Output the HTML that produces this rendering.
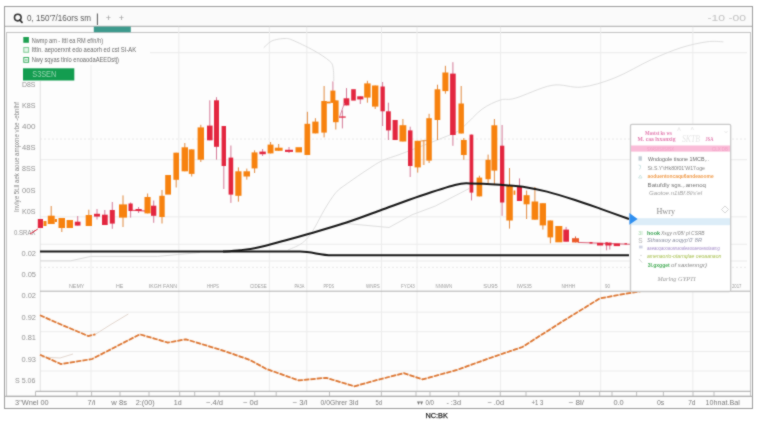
<!DOCTYPE html>
<html><head><meta charset="utf-8"><title>chart</title>
<style>
html,body{margin:0;padding:0;background:#fff;}
body{width:760px;height:426px;overflow:hidden;position:relative;}
svg{position:absolute;left:0;top:0;font-family:'Liberation Sans',sans-serif;}
</style></head>
<body>
<svg width="760" height="426" viewBox="0 0 760 426">
<defs><filter id="sf" x="0" y="0" width="760" height="426" filterUnits="userSpaceOnUse" color-interpolation-filters="sRGB"><feConvolveMatrix order="3" kernelMatrix="1 2 1 2 14 2 1 2 1" divisor="26" edgeMode="duplicate" preserveAlpha="true"/></filter></defs>
<g filter="url(#sf)">
<rect x="0" y="0" width="760" height="426" fill="#ffffff"/>
<rect x="4.5" y="6.5" width="748" height="402" fill="#fcfcfc" stroke="#9c9c9c" stroke-width="1"/>
<rect x="5" y="7" width="747" height="19" fill="#fafafa"/>
<line x1="5" y1="26.3" x2="752" y2="26.3" stroke="#a8a8a8" stroke-width="1"/>
<!-- inner main box -->
<rect x="6.5" y="32.5" width="744" height="363.8" fill="#fdfdfd" stroke="#c4c4c4" stroke-width="1"/>
<rect x="93.8" y="26.6" width="37" height="5.6" fill="#3d9a8d"/>
<!-- grids -->
<line x1="150" y1="52.7" x2="747" y2="52.7" stroke="#ebebeb" stroke-width="1"/>
<line x1="40" y1="159.7" x2="747" y2="159.7" stroke="#ebebeb" stroke-width="1"/><line x1="40" y1="216.8" x2="747" y2="216.8" stroke="#ebebeb" stroke-width="1"/><line x1="40" y1="244.3" x2="747" y2="244.3" stroke="#ebebeb" stroke-width="1"/><line x1="40" y1="261" x2="747" y2="261" stroke="#ebebeb" stroke-width="1"/>
<line x1="40" y1="139" x2="747" y2="139" stroke="#e8e8e8" stroke-width="1" stroke-dasharray="2,2"/><line x1="40" y1="267.3" x2="747" y2="267.3" stroke="#e8e8e8" stroke-width="1" stroke-dasharray="2,2"/>
<line x1="178.8" y1="26.8" x2="178.8" y2="291" stroke="#ececec" stroke-width="1"/><line x1="269.4" y1="26.8" x2="269.4" y2="291" stroke="#ececec" stroke-width="1"/><line x1="306.8" y1="26.8" x2="306.8" y2="291" stroke="#ececec" stroke-width="1"/><line x1="381.5" y1="26.8" x2="381.5" y2="291" stroke="#ececec" stroke-width="1"/><line x1="417" y1="26.8" x2="417" y2="291" stroke="#ececec" stroke-width="1"/><line x1="500.6" y1="26.8" x2="500.6" y2="291" stroke="#ececec" stroke-width="1"/><line x1="600.7" y1="26.8" x2="600.7" y2="291" stroke="#ececec" stroke-width="1"/><line x1="692.9" y1="26.8" x2="692.9" y2="291" stroke="#ececec" stroke-width="1"/>
<line x1="91" y1="65" x2="91" y2="291" stroke="#ececec" stroke-width="1"/>
<line x1="91" y1="291" x2="91" y2="391" stroke="#ececec" stroke-width="1"/><line x1="178.8" y1="291" x2="178.8" y2="391" stroke="#ececec" stroke-width="1"/><line x1="269.4" y1="291" x2="269.4" y2="391" stroke="#ececec" stroke-width="1"/><line x1="306.8" y1="291" x2="306.8" y2="391" stroke="#ececec" stroke-width="1"/><line x1="381.5" y1="291" x2="381.5" y2="391" stroke="#ececec" stroke-width="1"/><line x1="417" y1="291" x2="417" y2="391" stroke="#ececec" stroke-width="1"/><line x1="500.6" y1="291" x2="500.6" y2="391" stroke="#ececec" stroke-width="1"/><line x1="600.7" y1="291" x2="600.7" y2="391" stroke="#ececec" stroke-width="1"/><line x1="692.9" y1="291" x2="692.9" y2="391" stroke="#ececec" stroke-width="1"/>
<line x1="40" y1="312.2" x2="750" y2="312.2" stroke="#ececec" stroke-width="1"/><line x1="40" y1="331.7" x2="750" y2="331.7" stroke="#ececec" stroke-width="1"/><line x1="40" y1="351.5" x2="750" y2="351.5" stroke="#ececec" stroke-width="1"/><line x1="40" y1="371" x2="750" y2="371" stroke="#ececec" stroke-width="1"/>
<line x1="40.3" y1="81" x2="40.3" y2="391" stroke="#e2e2e2" stroke-width="1"/>
<!-- toolbar -->
<circle cx="17.8" cy="17.6" r="3.3" fill="none" stroke="#333" stroke-width="1.6"/>
<line x1="19.9" y1="20" x2="22" y2="22.4" stroke="#333" stroke-width="1.8" stroke-linecap="round"/>
<text x="27" y="21.2" font-size="9" fill="#5a5a5a" text-anchor="start" textLength="64" lengthAdjust="spacingAndGlyphs" >0, 150'7/16ors sm</text>
<line x1="97.4" y1="13.5" x2="97.4" y2="25" stroke="#555" stroke-width="1"/>
<text x="108.3" y="21" font-size="9" fill="#999" text-anchor="middle" >+</text>
<text x="121.4" y="21" font-size="9" fill="#999" text-anchor="middle" >+</text>
<text x="707.5" y="20.6" font-size="9" fill="#c2c2c2" text-anchor="start" textLength="38.5" lengthAdjust="spacingAndGlyphs" >-10 -00</text>
<!-- legend -->
<rect x="23.3" y="37" width="5.6" height="5.8" fill="#1ea052"/>
<rect x="23.8" y="47.5" width="4.8" height="4.8" fill="#e4f5e8" stroke="#82cc98" stroke-width="1"/>
<rect x="23.8" y="57.5" width="4.8" height="4.8" fill="#fff" stroke="#3cae62" stroke-width="1"/>
<line x1="24.8" y1="60" x2="27.6" y2="60" stroke="#3cae62" stroke-width="1"/>
<text x="31.7" y="42.6" font-size="7.6" fill="#6a6a6a" text-anchor="start" textLength="71.3" lengthAdjust="spacingAndGlyphs" >Nwmp am - Ittl ea RM ef/n/h)</text>
<text x="31.7" y="52.4" font-size="7.6" fill="#6a6a6a" text-anchor="start" textLength="104.5" lengthAdjust="spacingAndGlyphs" >Ittln. aepoerxnt edo aeaorh ed cst SI-AK</text>
<text x="31.7" y="62.4" font-size="7.6" fill="#6a6a6a" text-anchor="start" textLength="87.3" lengthAdjust="spacingAndGlyphs" >Nwy sqyas tlnlo enoaodaAEEDstj)</text>
<rect x="23" y="68.3" width="51.3" height="12.2" fill="#139d50"/>
<text x="32.3" y="77.3" font-size="8.3" fill="#9cd6b4" text-anchor="start" textLength="24" lengthAdjust="spacingAndGlyphs" >S3SEN</text>
<!-- rotated axis label -->
<text transform="translate(18.6,212) rotate(-90)" font-size="6.3" fill="#858585" textLength="110" lengthAdjust="spacingAndGlyphs">Invlye 5t.ll aek aoue ampxne vbe -ebnlhf</text>
<text x="35.5" y="86.5" font-size="7" fill="#929292" text-anchor="end" textLength="13.5" lengthAdjust="spacingAndGlyphs" >D8S</text><text x="35.5" y="108.0" font-size="7" fill="#929292" text-anchor="end" textLength="13.5" lengthAdjust="spacingAndGlyphs" >K8S</text><text x="35.5" y="128.5" font-size="7" fill="#929292" text-anchor="end" textLength="13.5" lengthAdjust="spacingAndGlyphs" >400</text><text x="35.5" y="150.2" font-size="7" fill="#929292" text-anchor="end" textLength="13.5" lengthAdjust="spacingAndGlyphs" >48S</text><text x="35.5" y="171.0" font-size="7" fill="#929292" text-anchor="end" textLength="13.5" lengthAdjust="spacingAndGlyphs" >8SS</text><text x="35.5" y="192.5" font-size="7" fill="#929292" text-anchor="end" textLength="13.5" lengthAdjust="spacingAndGlyphs" >00S</text><text x="35.5" y="213.8" font-size="7" fill="#929292" text-anchor="end" textLength="13.5" lengthAdjust="spacingAndGlyphs" >K0S</text><text x="35.5" y="235.3" font-size="7" fill="#929292" text-anchor="end" textLength="21.5" lengthAdjust="spacingAndGlyphs" >0.SRAX</text><text x="36" y="256.2" font-size="7" fill="#929292" text-anchor="end" textLength="14.5" lengthAdjust="spacingAndGlyphs" >0.02</text><text x="36" y="277.3" font-size="7" fill="#929292" text-anchor="end" textLength="14.5" lengthAdjust="spacingAndGlyphs" >0.05</text><text x="36" y="298.3" font-size="7" fill="#929292" text-anchor="end" textLength="14.5" lengthAdjust="spacingAndGlyphs" >0.02</text><text x="36" y="319.5" font-size="7" fill="#929292" text-anchor="end" textLength="14.5" lengthAdjust="spacingAndGlyphs" >0.92</text><text x="36" y="340.1" font-size="7" fill="#929292" text-anchor="end" textLength="14.5" lengthAdjust="spacingAndGlyphs" >0.81</text><text x="36" y="361.5" font-size="7" fill="#929292" text-anchor="end" textLength="14.5" lengthAdjust="spacingAndGlyphs" >0.93</text><text x="35.5" y="382.8" font-size="7" fill="#929292" text-anchor="end" textLength="20.5" lengthAdjust="spacingAndGlyphs" >S 5.06</text>
<!-- main chart gray lines -->
<path d="M263.8,47.6 C264.9,46.6 268.3,43.1 270.4,41.8 C272.5,40.5 273.8,40.1 276.2,39.6 C278.6,39.1 282.3,38.4 285,38.5 C287.7,38.6 287.4,38.0 292.2,40 C297.0,42.0 307.8,47.1 314,50.6 C320.2,54.1 326.1,58.0 329.3,60.8 C332.5,63.6 332.2,63.9 333,67.3 C333.8,70.7 333.7,78.7 333.8,81" fill="none" stroke="#dcdcdc" stroke-width="1"/>
<path d="M287.9,250 C289.9,249.1 296.6,246.6 300,244.5 C303.4,242.4 305.5,240.4 308,237.5 C310.5,234.6 312.3,231.5 315,227 C317.7,222.5 320.6,216.1 324,210.4 C327.4,204.7 331.8,197.3 335.7,192.8 C339.6,188.3 342.0,187.3 347.4,183.4 C352.8,179.5 362.1,173.1 368,169.3 C373.9,165.5 376.8,163.2 382.6,160.5 C388.4,157.8 391.4,157.6 403,153.2 C414.6,148.8 441.9,138.4 452,134 C462.1,129.6 458.7,130.6 463.7,126.5 C468.7,122.4 475.9,113.6 482,109.2 C488.1,104.8 494.9,101.8 500.5,100 C506.1,98.2 506.7,100.7 515.3,98.2 C523.9,95.8 541.0,87.2 552,85.3 C563.0,83.4 571.1,88.3 581.6,87.1 C592.1,85.9 603.0,82.5 614.7,77.9 C626.4,73.3 640.6,64.5 651.6,59.5 C662.6,54.5 671.8,50.7 681,47.7 C690.2,44.8 699.8,42.8 706.9,41.8 C714.0,40.8 720.6,41.8 723.4,41.8" fill="none" stroke="#dedede" stroke-width="1"/>
<polyline points="341,223 389,227.5 412,214.8 435.4,206 469,188.6" fill="none" stroke="#dedede" stroke-width="1"/>
<polyline points="40,260.8 70.6,260.8 90.8,256.4 157.5,256.4 177.8,254.5 200,252.5" fill="none" stroke="#dadada" stroke-width="1"/>

<!-- candles -->
<polyline points="30,234 37.8,229" fill="none" stroke="#e3263f" stroke-width="1"/>
<line x1="578" y1="242.4" x2="631" y2="244.3" stroke="#d8506a" stroke-width="0.9"/>
<rect x="37.8" y="219" width="5.2" height="9.0" fill="#e3263f"/><rect x="43.5" y="221" width="3.0" height="5.0" fill="#f7820f"/><line x1="51.2" y1="206" x2="51.2" y2="224" stroke="#e08a40" stroke-width="1"/><rect x="47.8" y="215.7" width="6.9" height="8.3" fill="#f7820f"/><rect x="54.7" y="219" width="2.3" height="3.0" fill="#f7820f"/><line x1="61.8" y1="218" x2="61.8" y2="232" stroke="#e08a40" stroke-width="1"/><rect x="58.5" y="218" width="6.5" height="10.0" fill="#f7820f"/><rect x="66.6" y="220" width="6.4" height="8.0" fill="#f7820f"/><line x1="77.7" y1="216" x2="77.7" y2="225.6" stroke="#d47a98" stroke-width="1"/><rect x="74.8" y="221.7" width="5.7" height="3.9" fill="#e3263f"/><line x1="88.8" y1="209.7" x2="88.8" y2="226" stroke="#e08a40" stroke-width="1"/><rect x="85.7" y="215" width="6.3" height="11.0" fill="#f7820f"/><line x1="97.0" y1="209" x2="97.0" y2="219.5" stroke="#d47a98" stroke-width="1"/><rect x="94" y="213.8" width="6.0" height="2.8" fill="#e3263f"/><line x1="104.8" y1="210" x2="104.8" y2="225" stroke="#d47a98" stroke-width="1"/><rect x="102" y="214.7" width="5.7" height="10.3" fill="#e3263f"/><line x1="112.3" y1="202" x2="112.3" y2="228.8" stroke="#d47a98" stroke-width="1"/><rect x="109.8" y="210" width="5.0" height="13.6" fill="#e3263f"/><line x1="123.0" y1="195.4" x2="123.0" y2="227" stroke="#e08a40" stroke-width="1"/><rect x="119" y="204.4" width="8.0" height="13.2" fill="#f7820f"/><line x1="130.6" y1="202.5" x2="130.6" y2="217.6" stroke="#d47a98" stroke-width="1"/><rect x="128.5" y="203.5" width="4.2" height="7.5" fill="#e3263f"/><line x1="138.6" y1="207" x2="138.6" y2="213" stroke="#d47a98" stroke-width="1"/><rect x="135.5" y="209" width="6.2" height="2.0" fill="#e3263f"/><line x1="147.6" y1="193.5" x2="147.6" y2="213.4" stroke="#e08a40" stroke-width="1"/><rect x="144.5" y="197" width="6.1" height="16.4" fill="#f7820f"/><line x1="153.7" y1="200.5" x2="153.7" y2="222.8" stroke="#d47a98" stroke-width="1"/><rect x="151" y="205.7" width="5.3" height="10.1" fill="#e3263f"/><line x1="162.0" y1="190" x2="162.0" y2="223.5" stroke="#e08a40" stroke-width="1"/><rect x="159.3" y="195.8" width="5.4" height="21.2" fill="#f7820f"/><rect x="165.2" y="175" width="5.8" height="19.6" fill="#f7820f"/><line x1="176.2" y1="152.7" x2="176.2" y2="187.5" stroke="#e08a40" stroke-width="1"/><rect x="173.4" y="152.7" width="5.6" height="27.1" fill="#f7820f"/><line x1="184.8" y1="143" x2="184.8" y2="171.3" stroke="#e08a40" stroke-width="1"/><rect x="181.6" y="147.3" width="6.4" height="24.0" fill="#f7820f"/><line x1="191.7" y1="149.4" x2="191.7" y2="176.5" stroke="#e08a40" stroke-width="1"/><rect x="188.8" y="149.4" width="5.7" height="24.5" fill="#f7820f"/><line x1="200.8" y1="124.8" x2="200.8" y2="162" stroke="#e08a40" stroke-width="1"/><rect x="197.6" y="127.4" width="6.4" height="32.3" fill="#f7820f"/><line x1="209.8" y1="100.3" x2="209.8" y2="140.3" stroke="#d47a98" stroke-width="1"/><rect x="207" y="125.6" width="5.6" height="14.7" fill="#e3263f"/><line x1="216.5" y1="97.2" x2="216.5" y2="159.7" stroke="#d47a98" stroke-width="1"/><rect x="214" y="100.3" width="5.0" height="46.5" fill="#e3263f"/><line x1="223.8" y1="126" x2="223.8" y2="189" stroke="#d47a98" stroke-width="1"/><rect x="221.6" y="126" width="4.4" height="40.0" fill="#e3263f"/><line x1="230.9" y1="145.5" x2="230.9" y2="202.9" stroke="#d47a98" stroke-width="1"/><rect x="228.6" y="157.6" width="4.6" height="37.0" fill="#e3263f"/><line x1="238.4" y1="167.4" x2="238.4" y2="201.7" stroke="#e08a40" stroke-width="1"/><rect x="235.3" y="171.3" width="6.2" height="24.5" fill="#f7820f"/><line x1="246.8" y1="168.6" x2="246.8" y2="179.6" stroke="#e08a40" stroke-width="1"/><rect x="243.5" y="171.3" width="6.5" height="5.2" fill="#f7820f"/><line x1="254.6" y1="150.3" x2="254.6" y2="173" stroke="#e08a40" stroke-width="1"/><rect x="251.6" y="152.4" width="5.9" height="16.0" fill="#f7820f"/><line x1="262.6" y1="149" x2="262.6" y2="156" stroke="#d47a98" stroke-width="1"/><rect x="259.4" y="151.6" width="6.4" height="2.6" fill="#e3263f"/><line x1="270.6" y1="142" x2="270.6" y2="153.4" stroke="#e08a40" stroke-width="1"/><rect x="267.6" y="144.6" width="5.9" height="8.8" fill="#f7820f"/><line x1="278.7" y1="144" x2="278.7" y2="151" stroke="#e08a40" stroke-width="1"/><rect x="274.8" y="147.7" width="7.8" height="3.1" fill="#f7820f"/><line x1="289.0" y1="147" x2="289.0" y2="153" stroke="#d47a98" stroke-width="1"/><rect x="285" y="149.8" width="8.0" height="2.1" fill="#e3263f"/><rect x="295.5" y="147.2" width="6.5" height="5.2" fill="#f7820f"/><line x1="307.4" y1="111.8" x2="307.4" y2="155" stroke="#e08a40" stroke-width="1"/><rect x="304.5" y="123.8" width="5.7" height="31.2" fill="#f7820f"/><line x1="315.4" y1="118.2" x2="315.4" y2="133.4" stroke="#e08a40" stroke-width="1"/><rect x="312.3" y="121.6" width="6.2" height="11.8" fill="#f7820f"/><line x1="324.1" y1="86" x2="324.1" y2="137.4" stroke="#e08a40" stroke-width="1"/><rect x="321.3" y="101" width="5.5" height="31.6" fill="#f7820f"/><line x1="332.9" y1="81.4" x2="332.9" y2="102.9" stroke="#d47a98" stroke-width="1"/><rect x="330.4" y="90.6" width="5.0" height="12.3" fill="#f7820f"/><line x1="335.8" y1="100.4" x2="335.8" y2="129.5" stroke="#e08a40" stroke-width="1"/><rect x="333" y="100.4" width="5.6" height="21.8" fill="#f7820f"/><line x1="342.4" y1="110.3" x2="342.4" y2="128.4" stroke="#d47a98" stroke-width="1"/><rect x="339" y="116.4" width="6.7" height="1.3" fill="#e3263f"/><line x1="346.5" y1="88.1" x2="346.5" y2="105.4" stroke="#d47a98" stroke-width="1"/><rect x="343.6" y="98.3" width="5.7" height="7.1" fill="#e3263f"/><rect x="351.2" y="89.2" width="4.6" height="11.4" fill="#e3263f"/><line x1="360.3" y1="96.3" x2="360.3" y2="104" stroke="#d47a98" stroke-width="1"/><rect x="357.2" y="96.3" width="6.2" height="3.1" fill="#e3263f"/><line x1="367.4" y1="80.8" x2="367.4" y2="102.7" stroke="#e08a40" stroke-width="1"/><rect x="364.2" y="83.4" width="6.4" height="14.2" fill="#f7820f"/><line x1="375.2" y1="85.5" x2="375.2" y2="109" stroke="#e08a40" stroke-width="1"/><rect x="372" y="85.5" width="6.4" height="21.1" fill="#f7820f"/><line x1="382.6" y1="82" x2="382.6" y2="126" stroke="#d47a98" stroke-width="1"/><rect x="380.5" y="86.5" width="4.3" height="24.8" fill="#e3263f"/><line x1="388.4" y1="102.7" x2="388.4" y2="140" stroke="#d47a98" stroke-width="1"/><rect x="386" y="111.3" width="4.8" height="19.1" fill="#e3263f"/><rect x="392.6" y="120" width="5.1" height="20.0" fill="#e3263f"/><line x1="402.9" y1="119" x2="402.9" y2="141.5" stroke="#e08a40" stroke-width="1"/><rect x="399.5" y="125.2" width="6.8" height="16.3" fill="#f7820f"/><line x1="410.2" y1="126.7" x2="410.2" y2="177" stroke="#d47a98" stroke-width="1"/><rect x="408" y="130.4" width="4.5" height="35.6" fill="#e3263f"/><line x1="417.7" y1="140.8" x2="417.7" y2="172.6" stroke="#e08a40" stroke-width="1"/><rect x="414.6" y="140.8" width="6.2" height="26.6" fill="#f7820f"/><rect x="422.8" y="140" width="1.8" height="25.0" fill="#f2b27a"/><line x1="429.1" y1="113.8" x2="429.1" y2="163" stroke="#e08a40" stroke-width="1"/><rect x="426.3" y="118.2" width="5.5" height="42.4" fill="#f7820f"/><line x1="437.5" y1="84.7" x2="437.5" y2="140" stroke="#e08a40" stroke-width="1"/><rect x="434.6" y="89.3" width="5.7" height="30.7" fill="#f7820f"/><line x1="445.4" y1="65.8" x2="445.4" y2="93.7" stroke="#e08a40" stroke-width="1"/><rect x="442.4" y="72.5" width="6.0" height="18.6" fill="#f7820f"/><line x1="452.9" y1="62.2" x2="452.9" y2="145.8" stroke="#d47a98" stroke-width="1"/><rect x="450.1" y="73.6" width="5.6" height="61.4" fill="#e3263f"/><line x1="461.2" y1="86" x2="461.2" y2="133.5" stroke="#e08a40" stroke-width="1"/><rect x="458.5" y="103.5" width="5.4" height="30.0" fill="#f7820f"/><line x1="463.8" y1="138" x2="463.8" y2="159.8" stroke="#e08a40" stroke-width="1"/><rect x="460.9" y="140" width="5.8" height="15.0" fill="#f7820f"/><line x1="471.5" y1="134.6" x2="471.5" y2="200.4" stroke="#d47a98" stroke-width="1"/><rect x="469.6" y="134.6" width="3.7" height="58.0" fill="#e3263f"/><line x1="479.4" y1="175.7" x2="479.4" y2="196.4" stroke="#e08a40" stroke-width="1"/><rect x="476.6" y="177.6" width="5.6" height="18.8" fill="#f7820f"/><line x1="488.1" y1="154.6" x2="488.1" y2="184.6" stroke="#e08a40" stroke-width="1"/><rect x="485.5" y="159.8" width="5.2" height="19.4" fill="#f7820f"/><line x1="494.4" y1="119" x2="494.4" y2="185.1" stroke="#e08a40" stroke-width="1"/><rect x="491.4" y="125.3" width="5.9" height="45.3" fill="#f7820f"/><line x1="502.1" y1="125" x2="502.1" y2="215.8" stroke="#d47a98" stroke-width="1"/><rect x="500" y="145.7" width="4.3" height="56.8" fill="#e3263f"/><line x1="509.5" y1="168" x2="509.5" y2="228.6" stroke="#e08a40" stroke-width="1"/><rect x="506.3" y="185.5" width="6.5" height="35.0" fill="#f7820f"/><rect x="513.6" y="190.5" width="1.7" height="4.3" fill="#f7820f"/><line x1="519.5" y1="178.4" x2="519.5" y2="201" stroke="#d47a98" stroke-width="1"/><rect x="516.9" y="186" width="5.1" height="15.0" fill="#e3263f"/><line x1="526.6" y1="190.5" x2="526.6" y2="219" stroke="#e08a40" stroke-width="1"/><rect x="523.6" y="195.2" width="6.0" height="9.1" fill="#f7820f"/><line x1="534.9" y1="187" x2="534.9" y2="219.7" stroke="#e08a40" stroke-width="1"/><rect x="531.6" y="201.5" width="6.6" height="18.2" fill="#f7820f"/><line x1="542.9" y1="203.2" x2="542.9" y2="229.6" stroke="#e08a40" stroke-width="1"/><rect x="539.7" y="203.2" width="6.3" height="22.2" fill="#f7820f"/><line x1="550.4" y1="220.5" x2="550.4" y2="243.3" stroke="#e08a40" stroke-width="1"/><rect x="547.5" y="220.5" width="5.7" height="16.9" fill="#f7820f"/><rect x="555.3" y="226" width="7.0" height="16.3" fill="#f7820f"/><line x1="566.1" y1="226.9" x2="566.1" y2="241.7" stroke="#d47a98" stroke-width="1"/><rect x="563.3" y="229.6" width="5.7" height="12.1" fill="#e3263f"/><line x1="575.5" y1="236.4" x2="575.5" y2="242.4" stroke="#e06040" stroke-width="1"/><rect x="572" y="238.2" width="7.0" height="4.2" fill="#ec5a2a"/><rect x="589.5" y="242" width="3.0" height="1.6" fill="#e3263f"/><rect x="597" y="242.9" width="6.2" height="2.6" fill="#e3263f"/><line x1="606.6" y1="242.3" x2="606.6" y2="250.3" stroke="#d47a98" stroke-width="1"/><rect x="605.3" y="242.3" width="2.7" height="3.2" fill="#e3263f"/><line x1="609.8" y1="242.6" x2="609.8" y2="249.5" stroke="#d47a98" stroke-width="1"/><rect x="608" y="242.6" width="3.6" height="2.9" fill="#e3263f"/><rect x="613.7" y="243.5" width="6.3" height="2.6" fill="#e3263f"/><rect x="624.5" y="243.2" width="2.5" height="1.2" fill="#e3263f"/>
<rect x="326.6" y="101.6" width="4" height="1.8" fill="#f7820f"/>
<line x1="132.5" y1="210.3" x2="145" y2="211" stroke="#e3263f" stroke-width="0.9"/>
<line x1="420.5" y1="141" x2="427" y2="140.5" stroke="#e08a40" stroke-width="0.9"/>
<line x1="339.5" y1="117" x2="344.5" y2="103" stroke="#d47a98" stroke-width="0.9"/>
<!-- black lines -->
<path d="M40,251.6 L300,251.6 C312,251.6 320,255.3 332,255.3 L629,255.3" fill="none" stroke="#161616" stroke-width="2"/>
<path d="M223,251.6 C225.8,251.4 234.2,250.9 240,250.2 C245.8,249.5 250.5,249.1 258,247.5 C265.5,245.9 276.3,242.8 285,240.5 C293.7,238.2 299.8,236.5 310,233.5 C320.2,230.5 334.8,226.3 346.5,222.5 C358.2,218.7 367.8,214.9 380,210.5 C392.2,206.1 407.5,200.2 420,196 C432.5,191.8 446.7,187.1 455,185 C463.3,182.9 462.5,183.4 470,183.4 C477.5,183.4 490.5,184.1 500,184.8 C509.5,185.5 519.2,186.3 527,187.4 C534.8,188.5 539.0,189.5 547,191.6 C555.0,193.7 566.2,197.2 575,200 C583.8,202.8 591.0,205.4 600,208.6 C609.0,211.8 624.2,217.3 629,219" fill="none" stroke="#161616" stroke-width="2"/>
<!-- x labels main -->
<text x="69" y="287.8" font-size="5.5" fill="#9a9a9a" text-anchor="start" textLength="15.4" lengthAdjust="spacingAndGlyphs" >NEMY</text><text x="116" y="287.8" font-size="5.5" fill="#9a9a9a" text-anchor="start" textLength="7.3" lengthAdjust="spacingAndGlyphs" >HE</text><text x="148.7" y="287.8" font-size="5.5" fill="#9a9a9a" text-anchor="start" textLength="28.3" lengthAdjust="spacingAndGlyphs" >IKGH FANN</text><text x="207" y="287.8" font-size="5.5" fill="#9a9a9a" text-anchor="start" textLength="12" lengthAdjust="spacingAndGlyphs" >HHPS</text><text x="250" y="287.8" font-size="5.5" fill="#9a9a9a" text-anchor="start" textLength="16.7" lengthAdjust="spacingAndGlyphs" >CIDESE</text><text x="294.5" y="287.8" font-size="5.5" fill="#9a9a9a" text-anchor="start" textLength="9.8" lengthAdjust="spacingAndGlyphs" >PA3A</text><text x="323.5" y="287.8" font-size="5.5" fill="#9a9a9a" text-anchor="start" textLength="10.5" lengthAdjust="spacingAndGlyphs" >PPDS</text><text x="366" y="287.8" font-size="5.5" fill="#9a9a9a" text-anchor="start" textLength="13.7" lengthAdjust="spacingAndGlyphs" >WNRS</text><text x="401" y="287.8" font-size="5.5" fill="#9a9a9a" text-anchor="start" textLength="13.8" lengthAdjust="spacingAndGlyphs" >FYC43</text><text x="435.6" y="287.8" font-size="5.5" fill="#9a9a9a" text-anchor="start" textLength="16.4" lengthAdjust="spacingAndGlyphs" >NNNWN</text><text x="483.3" y="287.8" font-size="5.5" fill="#9a9a9a" text-anchor="start" textLength="14.5" lengthAdjust="spacingAndGlyphs" >SU95</text><text x="517" y="287.8" font-size="5.5" fill="#9a9a9a" text-anchor="start" textLength="14.7" lengthAdjust="spacingAndGlyphs" >IWS35</text><text x="561.6" y="287.8" font-size="5.5" fill="#9a9a9a" text-anchor="start" textLength="13.6" lengthAdjust="spacingAndGlyphs" >NHHH</text><text x="605" y="287.8" font-size="5.5" fill="#9a9a9a" text-anchor="start" textLength="5" lengthAdjust="spacingAndGlyphs" >90</text><text x="732" y="287.8" font-size="5.5" fill="#9a9a9a" text-anchor="start" textLength="9.5" lengthAdjust="spacingAndGlyphs" >2017</text>
<!-- separator main/lower -->
<line x1="40" y1="291.2" x2="750" y2="291.2" stroke="#b0b0b0" stroke-width="1"/>
<!-- lower panel -->
<polyline points="95.4,334.3 110,325 128.3,314" fill="none" stroke="#e2d6ce" stroke-width="1"/>
<polyline points="42,357 60,358 73,354" fill="none" stroke="#e2d6ce" stroke-width="1"/>
<polyline points="40,315.3 59.2,323.8 88.2,336 95.4,334.3" fill="none" stroke="#f6d8bf" stroke-width="1.6"/>
<polyline points="40,354.7 60.9,364 92.1,359 139.8,334.3 167.8,342.6 185.9,339.3 223.7,350.8 250,360 266.3,368.9 298.6,380.4 326.2,377.8 354.5,386.3 378.2,379.7 403.8,373.2 422.6,379.4 457,369.9 490,358 522.4,347 559.2,323.5 599.7,298.4 620,294.7 642,291" fill="none" stroke="#f6d8bf" stroke-width="1.6"/>
<polyline points="40,315.3 59.2,323.8 88.2,336 95.4,334.3" fill="none" stroke="#dc7634" stroke-width="1.75" stroke-dasharray="5,1.4"/>
<polyline points="40,354.7 60.9,364 92.1,359 139.8,334.3 167.8,342.6 185.9,339.3 223.7,350.8 250,360 266.3,368.9 298.6,380.4 326.2,377.8 354.5,386.3 378.2,379.7 403.8,373.2 422.6,379.4 457,369.9 490,358 522.4,347 559.2,323.5 599.7,298.4 620,294.7 642,291" fill="none" stroke="#dc7634" stroke-width="1.75" stroke-dasharray="5,1.4"/>
<!-- x axis cells -->
<line x1="35.5" y1="391.3" x2="750.5" y2="391.3" stroke="#a6a6a6" stroke-width="1"/>
<line x1="35.5" y1="391.5" x2="35.5" y2="396" stroke="#bdbdbd" stroke-width="1"/><line x1="77" y1="391.5" x2="77" y2="396" stroke="#bdbdbd" stroke-width="1"/><line x1="91.6" y1="391.5" x2="91.6" y2="396" stroke="#bdbdbd" stroke-width="1"/><line x1="120" y1="391.5" x2="120" y2="396" stroke="#bdbdbd" stroke-width="1"/><line x1="149" y1="391.5" x2="149" y2="396" stroke="#bdbdbd" stroke-width="1"/><line x1="179.7" y1="391.5" x2="179.7" y2="396" stroke="#bdbdbd" stroke-width="1"/><line x1="194.7" y1="391.5" x2="194.7" y2="396" stroke="#bdbdbd" stroke-width="1"/><line x1="219.2" y1="391.5" x2="219.2" y2="396" stroke="#bdbdbd" stroke-width="1"/><line x1="254.7" y1="391.5" x2="254.7" y2="396" stroke="#bdbdbd" stroke-width="1"/><line x1="276.2" y1="391.5" x2="276.2" y2="396" stroke="#bdbdbd" stroke-width="1"/><line x1="329.5" y1="391.5" x2="329.5" y2="396" stroke="#bdbdbd" stroke-width="1"/><line x1="381.4" y1="391.5" x2="381.4" y2="396" stroke="#bdbdbd" stroke-width="1"/><line x1="416" y1="391.5" x2="416" y2="396" stroke="#bdbdbd" stroke-width="1"/><line x1="430" y1="391.5" x2="430" y2="396" stroke="#bdbdbd" stroke-width="1"/><line x1="458.75" y1="391.5" x2="458.75" y2="396" stroke="#bdbdbd" stroke-width="1"/><line x1="500.3" y1="391.5" x2="500.3" y2="396" stroke="#bdbdbd" stroke-width="1"/><line x1="526" y1="391.5" x2="526" y2="396" stroke="#bdbdbd" stroke-width="1"/><line x1="579.5" y1="391.5" x2="579.5" y2="396" stroke="#bdbdbd" stroke-width="1"/><line x1="599.7" y1="391.5" x2="599.7" y2="396" stroke="#bdbdbd" stroke-width="1"/><line x1="612" y1="391.5" x2="612" y2="396" stroke="#bdbdbd" stroke-width="1"/><line x1="636.6" y1="391.5" x2="636.6" y2="396" stroke="#bdbdbd" stroke-width="1"/><line x1="663.4" y1="391.5" x2="663.4" y2="396" stroke="#bdbdbd" stroke-width="1"/><line x1="693" y1="391.5" x2="693" y2="396" stroke="#bdbdbd" stroke-width="1"/><line x1="714" y1="391.5" x2="714" y2="396" stroke="#bdbdbd" stroke-width="1"/>
<line x1="4.5" y1="396.3" x2="752.5" y2="396.3" stroke="#a8a8a8" stroke-width="1"/>
<text x="15.1" y="405.2" font-size="7" fill="#7a7a7a" text-anchor="start" textLength="33.6" lengthAdjust="spacingAndGlyphs" >3"Wnel 00</text><text x="87.6" y="405.2" font-size="7" fill="#7a7a7a" text-anchor="start" textLength="7.9" lengthAdjust="spacingAndGlyphs" >7/i</text><text x="111.3" y="405.2" font-size="7" fill="#7a7a7a" text-anchor="start" textLength="15.7" lengthAdjust="spacingAndGlyphs" >w 8s</text><text x="135.8" y="405.2" font-size="7" fill="#7a7a7a" text-anchor="start" textLength="18.9" lengthAdjust="spacingAndGlyphs" >2:(00)</text><text x="173.7" y="405.2" font-size="7" fill="#7a7a7a" text-anchor="start" textLength="7.9" lengthAdjust="spacingAndGlyphs" >1d</text><text x="206" y="405.2" font-size="7" fill="#7a7a7a" text-anchor="start" textLength="17" lengthAdjust="spacingAndGlyphs" >~.4/d</text><text x="242.9" y="405.2" font-size="7" fill="#7a7a7a" text-anchor="start" textLength="15.0" lengthAdjust="spacingAndGlyphs" >~ 0d</text><text x="292.6" y="405.2" font-size="7" fill="#7a7a7a" text-anchor="start" textLength="14.8" lengthAdjust="spacingAndGlyphs" >~ 3/l</text><text x="320.6" y="405.2" font-size="7" fill="#7a7a7a" text-anchor="start" textLength="37.8" lengthAdjust="spacingAndGlyphs" >0/0Ghrer 3Id</text><text x="375.5" y="405.2" font-size="7" fill="#7a7a7a" text-anchor="start" textLength="6.5" lengthAdjust="spacingAndGlyphs" >5d</text><text x="416.8" y="405.2" font-size="7" fill="#7a7a7a" text-anchor="start" textLength="17.2" lengthAdjust="spacingAndGlyphs" >▾▾ 0/0</text><text x="446.4" y="405.2" font-size="7" fill="#7a7a7a" text-anchor="start" textLength="14.6" lengthAdjust="spacingAndGlyphs" >- :3d</text><text x="487.4" y="405.2" font-size="7" fill="#7a7a7a" text-anchor="start" textLength="16.6" lengthAdjust="spacingAndGlyphs" >~ .0d</text><text x="531.6" y="405.2" font-size="7" fill="#7a7a7a" text-anchor="start" textLength="11.8" lengthAdjust="spacingAndGlyphs" >+1 3</text><text x="568.4" y="405.2" font-size="7" fill="#7a7a7a" text-anchor="start" textLength="15.6" lengthAdjust="spacingAndGlyphs" >~ 8l/</text><text x="613.4" y="405.2" font-size="7" fill="#7a7a7a" text-anchor="start" textLength="10.3" lengthAdjust="spacingAndGlyphs" >0.0</text><text x="656.9" y="405.2" font-size="7" fill="#7a7a7a" text-anchor="start" textLength="7.3" lengthAdjust="spacingAndGlyphs" >0s</text><text x="688.2" y="405.2" font-size="7" fill="#7a7a7a" text-anchor="start" textLength="7.3" lengthAdjust="spacingAndGlyphs" >7d</text><text x="705.5" y="405.2" font-size="7" fill="#7a7a7a" text-anchor="start" textLength="34.3" lengthAdjust="spacingAndGlyphs" >10hnat.Bal</text>
<!-- tooltip -->
<rect x="630.5" y="124.3" width="100.2" height="167.2" rx="1.5" fill="#ffffff" stroke="#c9c9c9" stroke-width="1.3"/>
<text x="645" y="135.3" font-size="6.6" fill="#e27aae" font-weight="bold" font-family="'Liberation Serif',serif" textLength="27" lengthAdjust="spacingAndGlyphs">Mostst ks ws</text>
<text x="637.5" y="141.2" font-size="6.6" fill="#e27aae" font-weight="bold" font-family="'Liberation Serif',serif" textLength="38" lengthAdjust="spacingAndGlyphs">M. caa lxxanxig</text>
<text x="682" y="141.5" font-size="9.5" fill="#e6e6e6" font-style="italic" font-family="'Liberation Serif',serif" textLength="18" lengthAdjust="spacingAndGlyphs">SKTB</text>
<text x="705.5" y="141.2" font-size="6.6" fill="#e27aae" font-weight="bold" font-family="'Liberation Serif',serif" textLength="7.8" lengthAdjust="spacingAndGlyphs">JSA</text>
<path d="M677.5,131 L679,127.5 L680.5,131 M691,130 L692.3,127 L693.6,130 M724.5,131 L726,133 L727.5,131" fill="none" stroke="#e4e4e4" stroke-width="0.7"/>
<rect x="631" y="145.5" width="99" height="6.1" fill="#fabcd8"/>
<text x="647" y="150.5" font-size="5" fill="#f2a0c4" textLength="27" lengthAdjust="spacingAndGlyphs">SXASXSXSXSX</text>
<text x="712" y="150.5" font-size="5" fill="#f2a0c4" textLength="16" lengthAdjust="spacingAndGlyphs">CLX DB</text>
<rect x="638.5" y="156.3" width="3.4" height="4.4" fill="#c0ccd4"/>
<path d="M638.6,165 Q641.5,165 640.5,167.5 L639.5,169.5" fill="none" stroke="#bcdcdc" stroke-width="0.8"/>
<path d="M638.6,178 L640.3,175 L642,178 Z" fill="none" stroke="#c4e0dc" stroke-width="0.8"/>
<text x="648" y="161" font-size="6.2" fill="#666" textLength="61" lengthAdjust="spacingAndGlyphs">Wndogole tisone 1MCB,..</text>
<text x="647.5" y="169.7" font-size="6.2" fill="#858585" textLength="57.5" lengthAdjust="spacingAndGlyphs">St.S.Y'tHk80f01'W1'l'oge</text>
<text x="647.6" y="178.3" font-size="6.2" fill="#f09c4c" font-weight="bold" textLength="66" lengthAdjust="spacingAndGlyphs">aoduentoncaqu6andeaoome</text>
<text x="647.6" y="186.9" font-size="6.2" fill="#707070" textLength="58.4" lengthAdjust="spacingAndGlyphs">Batufdly sgs.,.anenoq</text>
<text x="649" y="194.7" font-size="6.2" fill="#a0a0a0" font-style="italic" textLength="53" lengthAdjust="spacingAndGlyphs">Gaotoe.n1tBf.8l/s'el</text>
<text x="656.4" y="213.8" font-size="7.5" fill="#8a8a8a" font-family="'Liberation Serif',serif" textLength="18.6" lengthAdjust="spacingAndGlyphs">Hwry</text>
<rect x="722.5" y="207" width="5" height="5" fill="none" stroke="#ccc" stroke-width="0.8" transform="rotate(45 725 209.5)"/>
<rect x="631" y="218.2" width="99" height="7" fill="#dcedf8"/>
<polygon points="629.4,213 637.6,218.9 629.4,224.8" fill="#2f8ff0"/>
<text x="638.2" y="234.8" font-size="6.2" fill="#9ed4a4" textLength="4.5" lengthAdjust="spacingAndGlyphs">3I</text>
<text x="638.2" y="242.6" font-size="6.5" fill="#b0b0b0">S</text>
<rect x="639" y="245.6" width="3.6" height="2.8" fill="#d0d4e4"/>
<circle cx="641" cy="255.4" r="0.7" fill="#ccc"/>
<line x1="639" y1="259" x2="642" y2="262.5" stroke="#c8c8c8" stroke-width="0.8"/>
<text x="647" y="234.6" font-size="6" fill="#36a050" font-weight="bold" textLength="13" lengthAdjust="spacingAndGlyphs">hook</text>
<text x="661" y="234.6" font-size="6" fill="#888" font-style="italic" textLength="43.5" lengthAdjust="spacingAndGlyphs">Xsgy rr/08/ pl CSЯB</text>
<text x="647" y="242.2" font-size="6" fill="#8a8fa0" font-style="italic" textLength="55" lengthAdjust="spacingAndGlyphs">Sthaxaoy aoqyp'0' 8R</text>
<text x="647" y="250" font-size="5.8" fill="#a48cc8" font-style="italic" textLength="72.8" lengthAdjust="spacingAndGlyphs">aaeaoqaooaoanaoaleaooaeoeaotaamg</text>
<text x="647" y="258" font-size="5.8" fill="#a8c050" font-style="italic" textLength="74.4" lengthAdjust="spacingAndGlyphs">amenaorto-otarnqlae oeoaanaon</text>
<text x="647.7" y="267.3" font-size="6.2" fill="#4aae5a" font-weight="bold" textLength="22" lengthAdjust="spacingAndGlyphs">3I.gxgget</text>
<text x="671" y="267.3" font-size="6.2" fill="#888" font-style="italic" textLength="36" lengthAdjust="spacingAndGlyphs">of saxtenngr)</text>
<text x="657.6" y="281.3" font-size="6.8" fill="#999" font-style="italic" font-family="'Liberation Serif',serif" textLength="38" lengthAdjust="spacingAndGlyphs">Marlng GYPTI</text>
<!-- bottom caption -->
<text x="425.4" y="417.8" font-size="7.8" fill="#1e1e1e" stroke="#1e1e1e" stroke-width="0.25" textLength="22.4" lengthAdjust="spacingAndGlyphs">NC:BK</text>
</g>
</svg>
</body></html>
